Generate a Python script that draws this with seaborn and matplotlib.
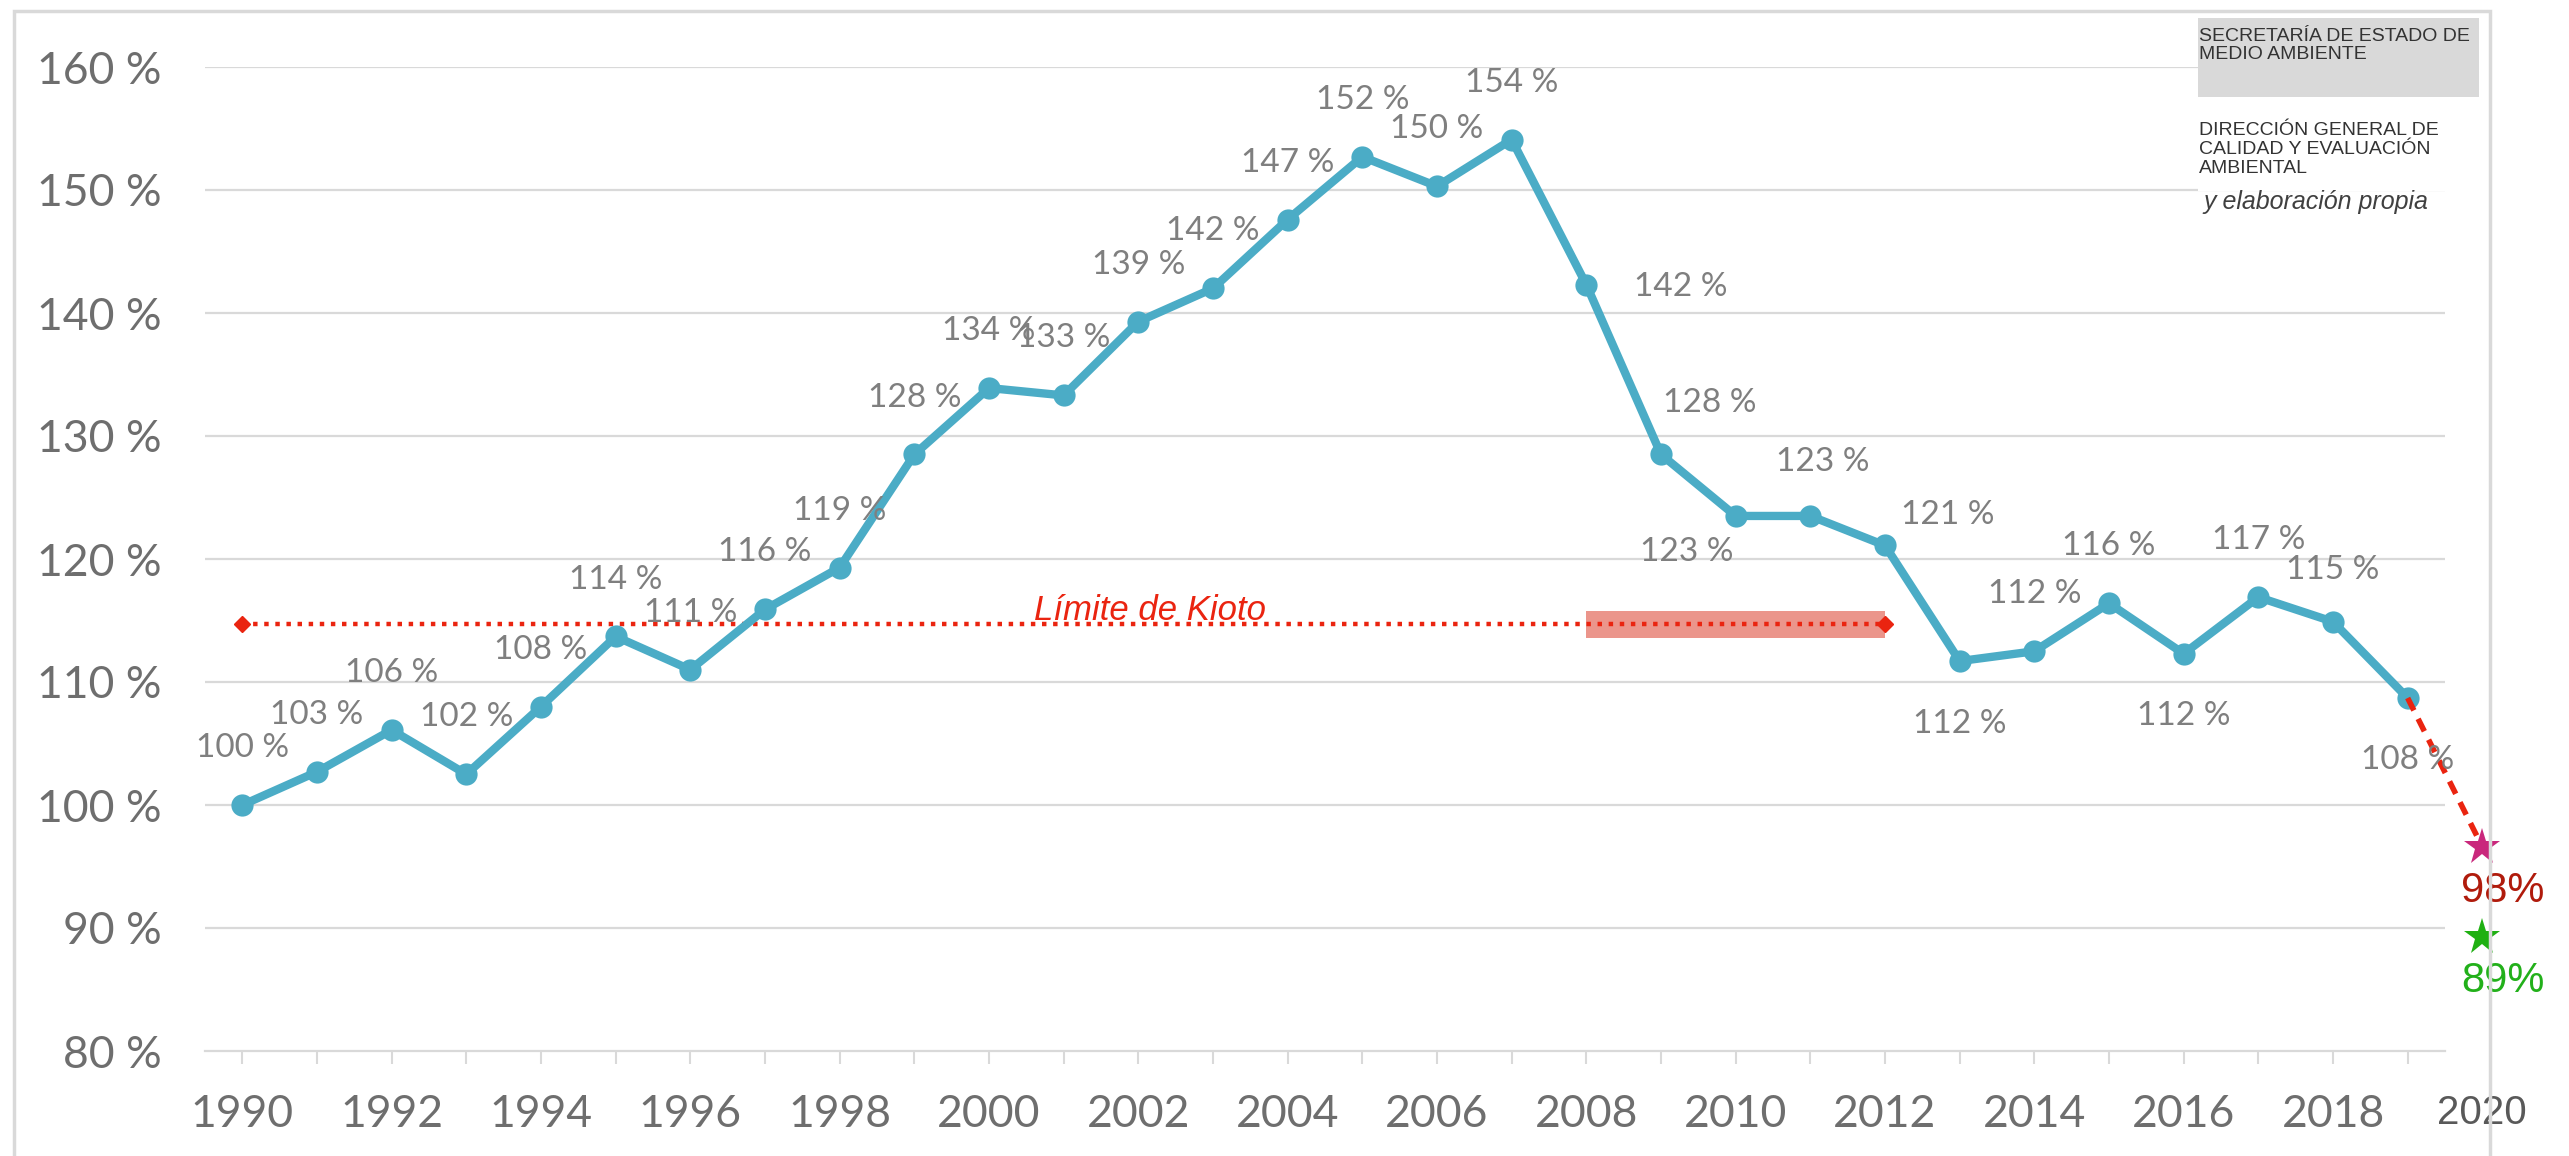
import numpy as np
import pandas as pd
import matplotlib
matplotlib.use('Agg')
import matplotlib.pyplot as plt
from matplotlib.patches import Rectangle
import seaborn as sns

# datos (indice de emisiones, 1990 = 100 %)
anios = list(range(1990, 2020))
valores = [100.0, 102.7, 106.1, 102.5, 108.0, 113.7, 111.0, 115.9, 119.3, 128.5,
           133.9, 133.3, 139.3, 142.0, 147.6, 152.7, 150.3, 154.1, 142.3, 128.5,
           123.5, 123.5, 121.1, 111.7, 112.5, 116.4, 112.3, 116.9, 114.9, 108.7]
etiquetas = ['100 %', '103 %', '106 %', '102 %', '108 %', '114 %', '111 %', '116 %', '119 %', '128 %',
             '134 %', '133 %', '139 %', '142 %', '147 %', '152 %', '150 %', '154 %', '142 %', '128 %',
             '123 %', '123 %', '121 %', '112 %', '112 %', '116 %', '112 %', '117 %', '115 %', '108 %']

# limite de Kioto y proyecciones 2020
kioto_anios = [1990, 2012]
kioto_valor = 114.7
kioto_tramo = [2008, 2012]
proy_anio = 2020
proy_valores = [96.6, 89.3]
proy_etiquetas = ['98%', '89%']

ticks_y = [80, 90, 100, 110, 120, 130, 140, 150, 160]

df = pd.DataFrame({'anio': anios, 'valor': valores})

# donde va cada etiqueta respecto al punto (offset en puntos)
pos = {'arriba': (0, 41), 'abajo': (0, -45)}
especial = {2008: (68, -2), 2009: (35, 37), 2010: (-35, -26), 2011: (9, 39),
            2012: (45, 22), 2013: pos['abajo'], 2016: pos['abajo'], 2019: pos['abajo'],
            2018: (0, 37)}

sns.set_theme(style='white')
plt.rcParams['font.family'] = ['Lato', 'DejaVu Sans']

W, H = 2569, 1156
fig = plt.figure(figsize=(W / 100, H / 100), dpi=100)
ax = fig.add_axes([205 / W, 1 - 1051 / H, (2445 - 205) / W, (1051 - 67) / H])

azul = '#4bacc6'
rojo = '#ea2410'
gris_grid = '#d9d9d9'

for v in ticks_y[1:]:
    ax.axhline(v, color=gris_grid, lw=1.6, zorder=0)

sns.lineplot(data=df, x='anio', y='valor', ax=ax, color=azul, linewidth=6,
             marker='o', markersize=16, markeredgewidth=0, zorder=3)

for a, v, t in zip(anios, valores, etiquetas):
    off = especial.get(a, pos['arriba'])
    ax.annotate(t, (a, v), xytext=off, textcoords='offset points', ha='center', va='center',
                fontsize=24, color='#7f7f7f', annotation_clip=False, zorder=5)

# limite de Kioto
ax.add_patch(Rectangle((kioto_tramo[0], kioto_valor - 1.1), kioto_tramo[1] - kioto_tramo[0], 2.2,
                       color='#e98a7f', alpha=0.9, lw=0, zorder=1))
ax.plot(kioto_anios, [kioto_valor, kioto_valor], color=rojo, lw=3.2, ls=(0, (1, 1.5)), zorder=2)
ax.plot(kioto_anios, [kioto_valor, kioto_valor], color=rojo, lw=0, marker='D', markersize=8, zorder=2)
ax.annotate('Límite de Kioto', (2002.16, kioto_valor), xytext=(0, 3), textcoords='offset points',
            ha='center', va='baseline', fontsize=25, style='italic', color=rojo,
            family=['Liberation Sans', 'DejaVu Sans'])

# proyeccion 2020
ax.plot([anios[-1], proy_anio], [valores[-1], proy_valores[0]], color=rojo, lw=4,
        ls=(0, (2.5, 1.7)), clip_on=False, zorder=4)
colores_estrella = ['#c9287c', '#1fb012']
colores_texto = ['#b01b0c', '#22b01a']
for v, t, ce, ct in zip(proy_valores, proy_etiquetas, colores_estrella, colores_texto):
    ax.plot([proy_anio], [v], marker='*', markersize=28, color=ce, markeredgewidth=0,
            clip_on=False, zorder=5)
    ax.annotate(t, (proy_anio, v), xytext=(15, -32), textcoords='offset points',
                ha='center', va='center', fontsize=30, color=ct, zorder=7,
                family=['Liberation Sans', 'DejaVu Sans'], annotation_clip=False)
ax.annotate('2020', (proy_anio, 80), xytext=(0, -45), textcoords='offset points',
            ha='center', va='center', fontsize=29, color='#595959',
            family=['Liberation Sans', 'DejaVu Sans'], annotation_clip=False)

ax.set_xlim(1989.5, 2019.5)
ax.set_ylim(80, 160)
ax.set_xticks(anios)
ax.set_xticklabels([str(a) if a % 2 == 0 else '' for a in anios])
ax.set_yticks(ticks_y)
ax.set_yticklabels([f'{v} %' for v in ticks_y])
ax.tick_params(axis='x', length=9, width=1.5, color=gris_grid, pad=22,
               labelsize=32, labelcolor='#6e6e6e', bottom=True)
ax.tick_params(axis='y', length=0, pad=31, labelsize=32, labelcolor='#6e6e6e')
for s in ['top', 'right', 'left']:
    ax.spines[s].set_visible(False)
ax.spines['bottom'].set_color(gris_grid)
ax.spines['bottom'].set_linewidth(1.6)
ax.set_xlabel('')
ax.set_ylabel('')

# marco y leyenda de fuente
fig.add_artist(Rectangle((14 / W, -0.05), (2490 - 14) / W, 1.05 - 11 / H, transform=fig.transFigure,
                         fill=False, edgecolor=gris_grid, lw=2.5))
fig.add_artist(Rectangle((2198 / W, 1 - 191 / H), (2445 - 2198) / W, (191 - 97) / H,
                         transform=fig.transFigure, color='white', lw=0, zorder=6))
fig.add_artist(Rectangle((2198 / W, 1 - 97 / H), (2479 - 2198) / W, (97 - 18) / H,
                         transform=fig.transFigure, color='#d9d9d9', lw=0, zorder=6))
fuente = ['Liberation Sans', 'DejaVu Sans']
fig.text(2199 / W, 1 - 28 / H, 'SECRETARÍA DE ESTADO DE\nMEDIO AMBIENTE', ha='left', va='top',
         fontsize=14, color='#333333', family=fuente, linespacing=1.05, zorder=7)
fig.text(2199 / W, 1 - 122 / H, 'DIRECCIÓN GENERAL DE\nCALIDAD Y EVALUACIÓN\nAMBIENTAL', ha='left',
         va='top', fontsize=14, color='#333333', family=fuente, linespacing=1.15, zorder=7)
fig.text(2203 / W, 1 - 202 / H, 'y elaboración propia', ha='left', va='center', fontsize=18,
         style='italic', color='#404040', family=fuente, zorder=7)

fig.savefig('out.png', dpi=100, facecolor='white')
